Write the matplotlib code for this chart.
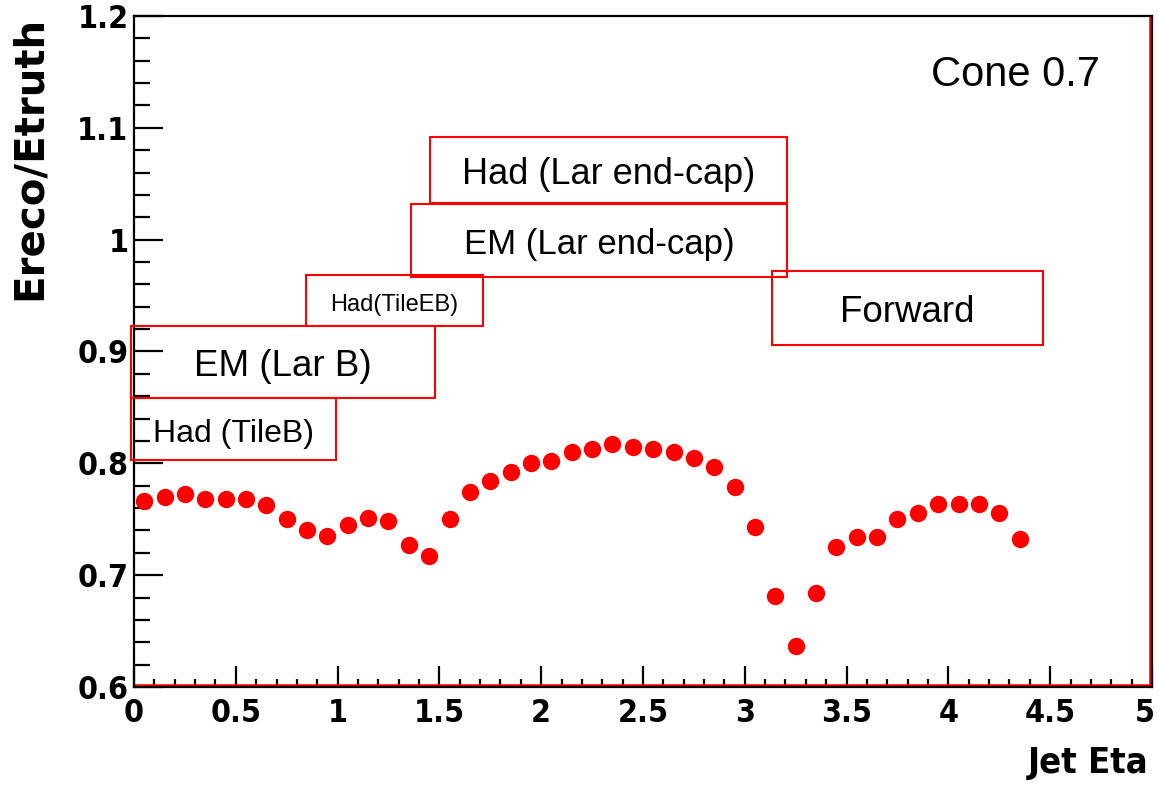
"""Jet energy response (Ereco/Etruth) versus jet eta, cone 0.7."""

import matplotlib

matplotlib.use("Agg")
import matplotlib.pyplot as plt
from matplotlib import font_manager
from matplotlib.font_manager import FontProperties
from matplotlib.patches import Rectangle
from matplotlib.ticker import MultipleLocator

# bin centres in eta and the response
eta = [
    0.05, 0.15, 0.25, 0.35, 0.45, 0.55, 0.65, 0.75, 0.85, 0.95,
    1.05, 1.15, 1.25, 1.35, 1.45, 1.55, 1.65, 1.75, 1.85, 1.95,
    2.05, 2.15, 2.25, 2.35, 2.45, 2.55, 2.65, 2.75, 2.85, 2.95,
    3.05, 3.15, 3.25, 3.35, 3.45, 3.55, 3.65, 3.75, 3.85, 3.95,
    4.05, 4.15, 4.25, 4.35,
]
response = [
    0.766, 0.770, 0.773, 0.768, 0.768, 0.768, 0.763, 0.750, 0.740, 0.735,
    0.745, 0.751, 0.748, 0.727, 0.717, 0.750, 0.774, 0.784, 0.792, 0.800,
    0.802, 0.810, 0.813, 0.817, 0.815, 0.813, 0.810, 0.805, 0.797, 0.779,
    0.743, 0.681, 0.637, 0.684, 0.725, 0.734, 0.734, 0.750, 0.756, 0.764,
    0.764, 0.764, 0.756, 0.732,
]

# detector region labels (boxes drawn in data coordinates)
region_labels = ["Had (Lar end-cap)", "EM (Lar end-cap)", "Had(TileEB)",
                 "EM (Lar B)", "Had (TileB)", "Forward"]
region_eta_lo = [1.454, 1.360, 0.845, -0.015, -0.015, 3.134]
region_eta_hi = [3.207, 3.207, 1.714, 1.478, 0.992, 4.465]
region_y_lo = [1.033, 0.967, 0.923, 0.858, 0.803, 0.906]
region_y_hi = [1.092, 1.032, 0.968, 0.923, 0.858, 0.972]
region_fontsize = [26, 25, 17, 26.5, 23, 26.5]

X_MAX = 5

RED = "#ff0000"

_names = {f.name for f in font_manager.fontManager.ttflist}
PLAIN = "Liberation Sans" if "Liberation Sans" in _names else "DejaVu Sans"


def _weight(entry) -> int:
    w = entry.weight
    if isinstance(w, str):
        return {"bold": 700, "heavy": 800, "black": 900, "demibold": 600,
                "semibold": 600}.get(w, 400)
    return int(w)


def _condensed_bold():
    """Find a bold condensed/narrow face, if any is installed."""
    found = []
    for f in font_manager.fontManager.ttflist:
        narrow = ("condensed" in str(f.stretch) or "Narrow" in f.name
                  or "Condensed" in f.name)
        if narrow and _weight(f) >= 600 and f.style == "normal":
            found.append(f)
    if not found:
        return None
    found.sort(key=lambda f: (abs(_weight(f) - 700), "Liberation" not in f.name))
    return found[0].fname


COND = _condensed_bold()


def bold_cond(size):
    if COND is not None:
        return FontProperties(fname=COND, size=size)
    return FontProperties(family=PLAIN, weight="bold", size=size * 0.86)


def main() -> None:
    fig = plt.figure(figsize=(11.58, 7.87), dpi=100, facecolor="white")
    ax = fig.add_axes([0.1157, 0.1271, 0.8791, 0.8526])

    ax.plot(eta, response, linestyle="none", marker="o", markersize=11.5,
            color=RED, markeredgecolor=RED, zorder=3)

    ax.set_xlim(0, X_MAX)
    ax.set_ylim(0.6, 1.2)

    # red histogram frame lines along bottom and right edge
    ax.axhline(0.6, color=RED, lw=4, zorder=2.4)
    ax.axvline(X_MAX, color=RED, lw=4, zorder=2.4)

    for side in ["left", "bottom", "top", "right"]:
        ax.spines[side].set_linewidth(1.6)
        ax.spines[side].set_color("black")
        ax.spines[side].set_zorder(2.5)

    ax.xaxis.set_major_locator(MultipleLocator(0.5))
    ax.xaxis.set_minor_locator(MultipleLocator(0.1))
    ax.yaxis.set_major_locator(MultipleLocator(0.1))
    ax.yaxis.set_minor_locator(MultipleLocator(0.02))
    # the last x label is drawn separately so it can sit inside the canvas
    ax.xaxis.set_major_formatter(
        plt.FuncFormatter(lambda v, p: "" if abs(v - X_MAX) < 1e-9 else f"{v:g}"))
    ax.yaxis.set_major_formatter(plt.FuncFormatter(lambda v, p: f"{v:g}"))

    ax.tick_params(axis="y", which="major", direction="in", length=21, width=1.6, pad=4)
    ax.tick_params(axis="y", which="minor", direction="in", length=11.5, width=1.6)
    ax.tick_params(axis="x", which="major", direction="in", length=15, width=1.6, pad=8)
    ax.tick_params(axis="x", which="minor", direction="in", length=6, width=1.6)
    for lab in ax.get_xticklabels() + ax.get_yticklabels():
        lab.set_fontproperties(bold_cond(23))

    ax.annotate(f"{X_MAX:g}", xy=(X_MAX, 0), xycoords=("data", "axes fraction"),
                xytext=(2, -8), textcoords="offset points", ha="right", va="top",
                fontproperties=bold_cond(23), annotation_clip=False)

    ax.set_xlabel("Jet Eta", loc="right", fontproperties=bold_cond(26), va="top")
    ax.xaxis.set_label_coords(0.997, -0.088)
    ax.set_ylabel("Ereco/Etruth", loc="top", fontfamily="DejaVu Sans",
                  fontweight="bold", fontsize=29)
    ax.yaxis.set_label_coords(-0.083, 1.0)

    for label, x0, x1, y0, y1, fs in zip(region_labels, region_eta_lo, region_eta_hi,
                                         region_y_lo, region_y_hi, region_fontsize):
        ax.add_patch(Rectangle((x0, y0), x1 - x0, y1 - y0, fill=False,
                               edgecolor=RED, lw=1.5, clip_on=False, zorder=4))
        ax.text((x0 + x1) / 2, (y0 + y1) / 2 - 0.004, label, ha="center", va="center",
                fontfamily=PLAIN, fontsize=fs, color="black", zorder=5)

    ax.text(4.327, 1.147, "Cone 0.7", ha="center", va="center",
            fontfamily=PLAIN, fontsize=30, color="black")

    fig.savefig("out.png", dpi=100, facecolor=fig.get_facecolor())
    plt.close(fig)


if __name__ == "__main__":
    main()
